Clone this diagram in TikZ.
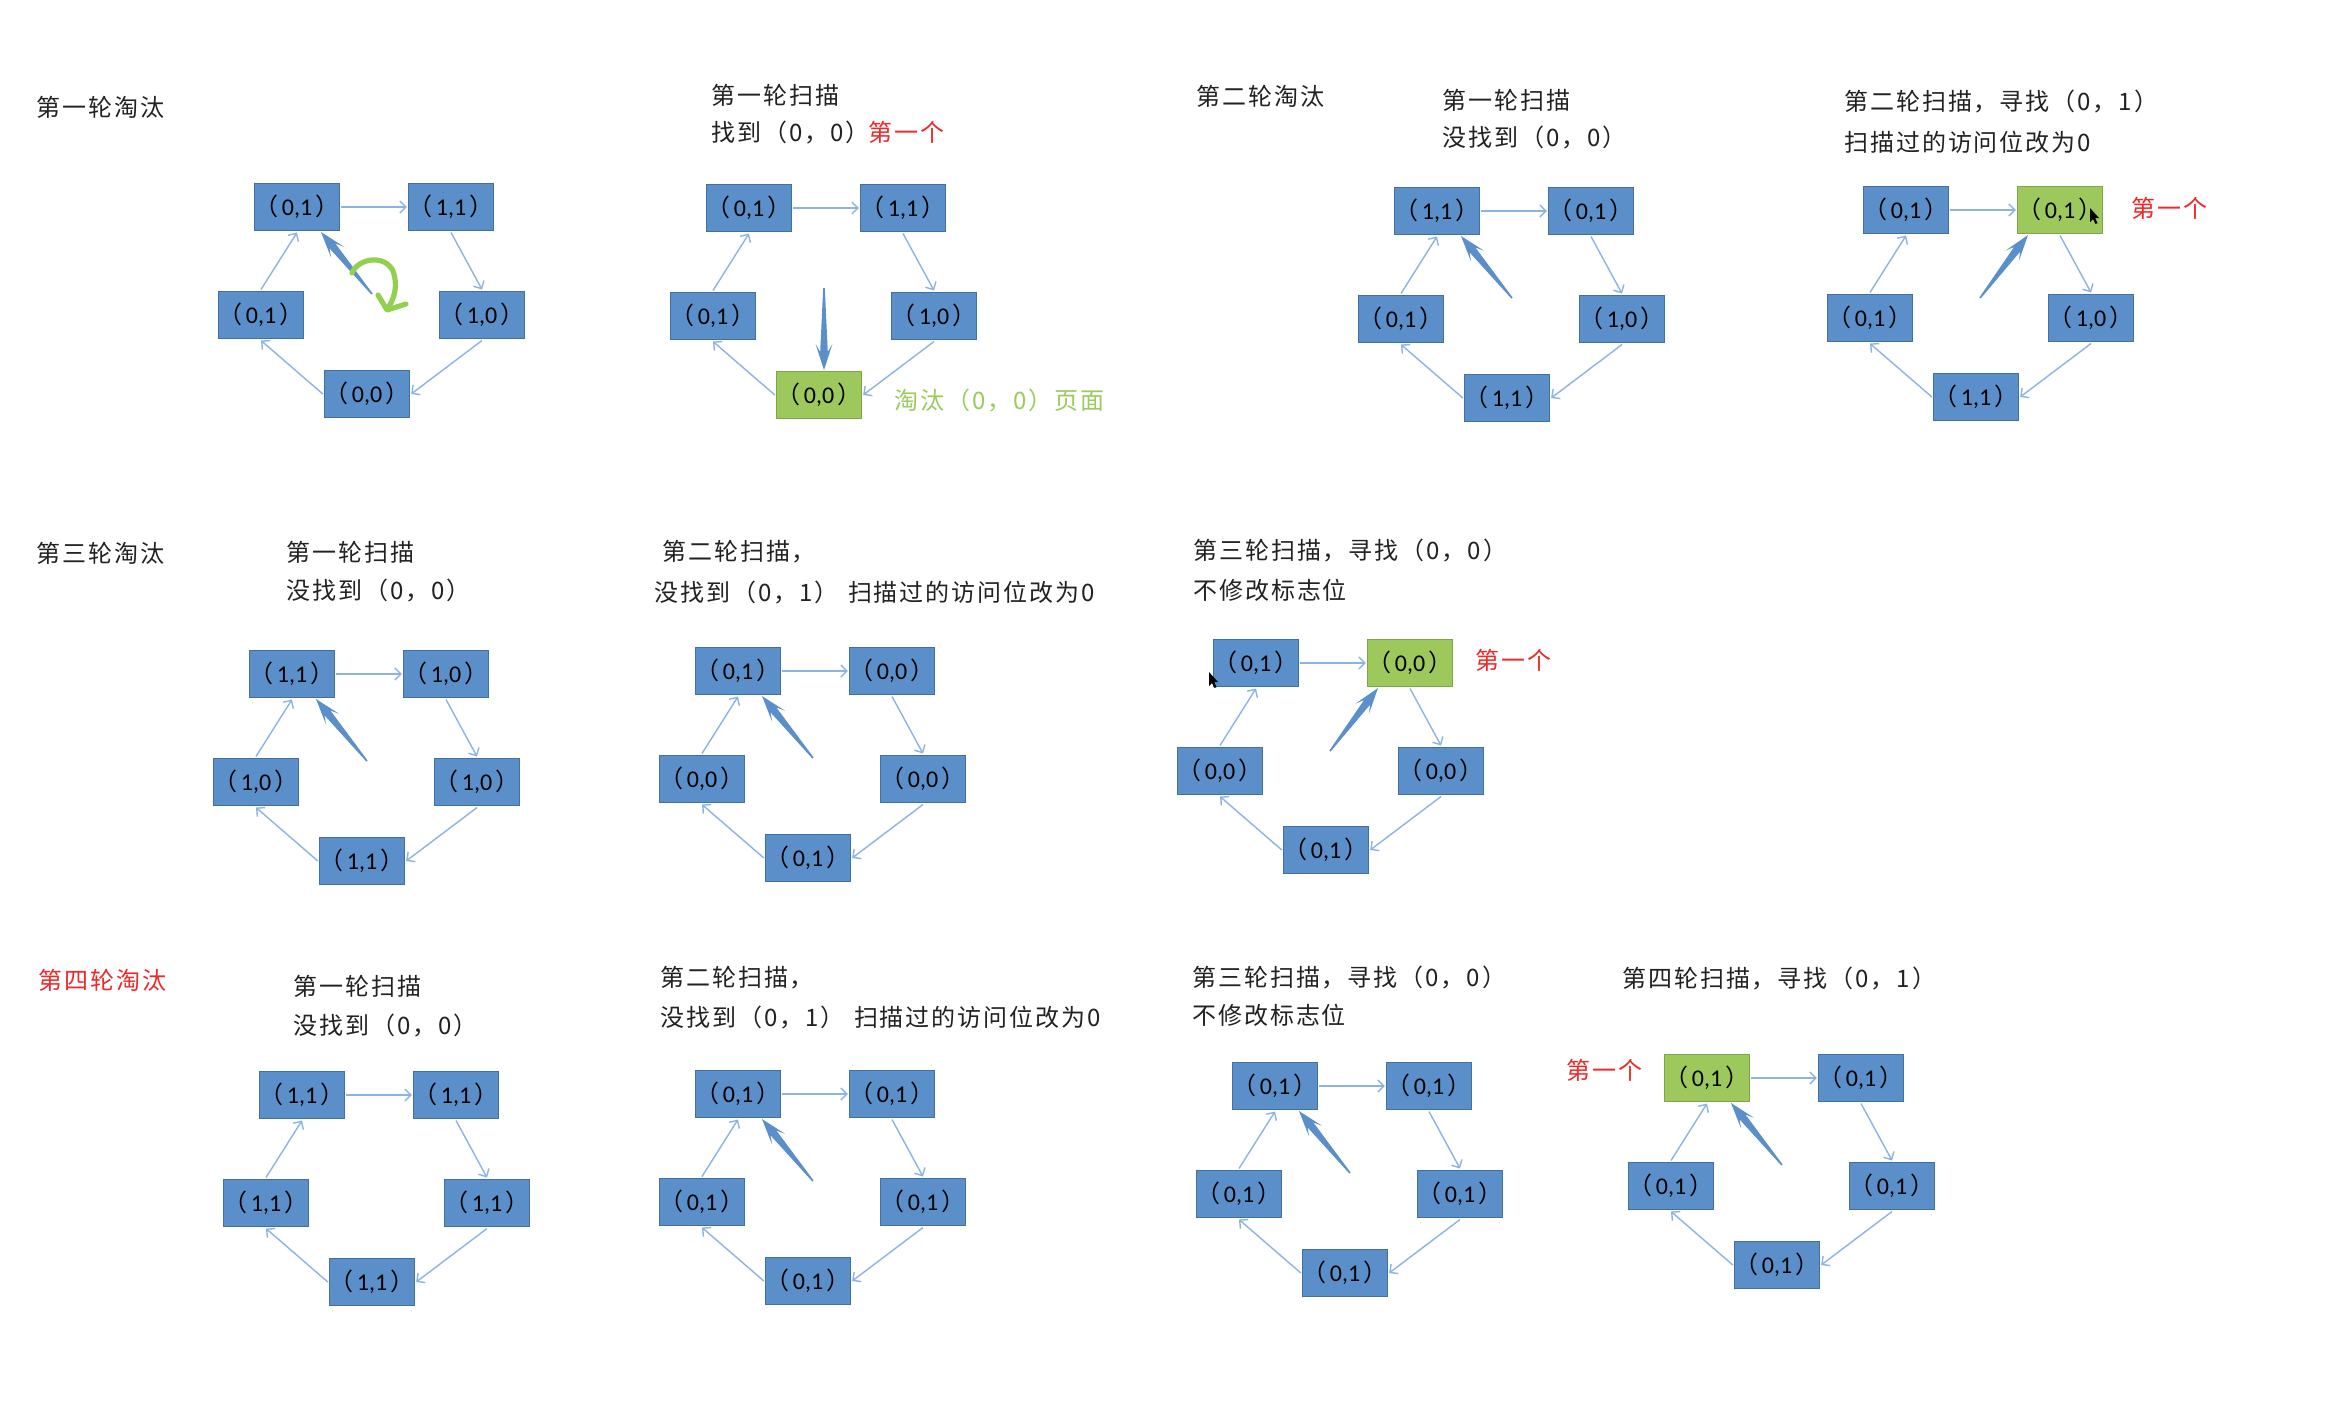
\documentclass[tikz,border=0pt]{standalone}
\usepackage{fontspec}
\usetikzlibrary{calc,arrows.meta}
\newfontfamily\cjk{Noto Sans CJK SC}[LetterSpace=8.0]
\newfontfamily\cjkp{Noto Sans CJK SC}
\newfontfamily\lbf{Carlito}
\definecolor{boxblue}{HTML}{5B8FCA}
\definecolor{boxedge}{HTML}{41719C}
\definecolor{boxgreen}{HTML}{9DC85C}
\definecolor{gedge}{HTML}{7FA548}
\definecolor{linkblue}{HTML}{8DB3E2}
\definecolor{ptrblue}{HTML}{5B8FCA}
\definecolor{redtxt}{HTML}{F02828}
\definecolor{greentxt}{HTML}{9BCB5E}
\definecolor{curgreen}{HTML}{92D050}
\definecolor{ink}{HTML}{222222}
\newcommand\lb[1]{{\cjkp （}\hspace{1.5pt}#1\hspace{1.5pt}{\cjkp ）}}
\newcommand\panel[9]{%
  \tikzset{hl-tl/.style={},hl-tr/.style={},hl-ml/.style={},hl-mr/.style={},hl-b/.style={},hl-none/.style={}}%
  \tikzset{hl-#9/.style={fill=boxgreen,draw=gedge}}%
  \begin{scope}[shift={(#2,#3)}]
    \node[bx,hl-tl] (#1-tl) at (0,0) {\lb{#4}};
    \node[bx,hl-tr] (#1-tr) at (154,0) {\lb{#5}};
    \node[bx,hl-ml] (#1-ml) at (-36,108) {\lb{#6}};
    \node[bx,hl-mr] (#1-mr) at (185,108) {\lb{#7}};
    \node[bx,hl-b] (#1-b) at (70,187) {\lb{#8}};
  \end{scope}
  \draw[cn] (#1-tl) -- (#1-tr);
  \draw[cn] (#1-tr.south) -- (#1-mr.north);
  \draw[cn] (#1-mr.south) -- (#1-b.east);
  \draw[cn] (#1-b.west) -- (#1-ml.south);
  \draw[cn] (#1-ml.north) -- (#1-tl.south);
}
\newcommand\ptrat[3]{%
  \coordinate (#1-ph) at #2;
  \coordinate (#1-pt) at #3;
  \coordinate (#1-p1) at ($(#1-ph)!13pt!(#1-pt)$);
  \coordinate (#1-p2) at ($(#1-ph)!9pt!(#1-pt)$);
  \fill[ptr] (#1-ph) -- ($(#1-p1)!4.2pt!90:(#1-pt)$) -- ($(#1-p2)!1.9pt!90:(#1-pt)$)
    -- ($(#1-pt)!0.4pt!-90:(#1-ph)$) -- ($(#1-pt)!0.4pt!90:(#1-ph)$)
    -- ($(#1-p2)!1.9pt!-90:(#1-pt)$) -- ($(#1-p1)!4.2pt!-90:(#1-pt)$) -- cycle;
}
\newcommand\upleft[1]{\ptrat{#1}{($(#1-tl)+(24,25)$)}{($(#1-tl)+(75,87)$)}}
\newcommand\upright[1]{\ptrat{#1}{($(#1-tr)+(-32,25)$)}{($(#1-tr)+(-80,88)$)}}
\newcommand\mcursor[2]{\fill[black,shift={(#1,#2)}] (0,0) -- (0,14) -- (3,11) -- (5.5,16) -- (7.5,15) -- (5,10) -- (9,10) -- cycle;}
\begin{document}
\begin{tikzpicture}[x=0.5pt,y=-0.5pt,
  bx/.style={draw=boxedge, line width=0.5pt, fill=boxblue, minimum width=41.5pt,
    minimum height=23.5pt, inner sep=0pt, outer sep=1pt,
    font=\lbf\fontsize{12}{14}\selectfont, text=black},
  cn/.style={draw=linkblue, line width=0.7pt, -{Straight Barb[length=3pt,width=6pt]}},
  ptr/.style={fill=ptrblue},
  ttl/.style={anchor=west, inner sep=0pt, font=\cjk\fontsize{12}{14}\selectfont, text=ink},
  red/.style={ttl, text=redtxt},
]
\fill[white] (0,0) rectangle (2325,1405);
\useasboundingbox (0,0) rectangle (2325,1405);

% ---------- row 1 ----------
\node[ttl] (t1) at (36,107) {第一轮淘汰};
\panel{a}{297}{207}{0,1}{1,1}{0,1}{1,0}{0,0}{none}
\upleft{a}
\draw[curgreen, line width=2.6pt, line cap=round]
  (352,273) .. controls (358,258) and (385,254) .. (393,271) .. controls (398,284) and (395,299) .. (387,309);
\draw[curgreen, line width=2.6pt, line cap=round, line join=round] (378,295) -- (387,310) -- (406,304);

\node[ttl] (t2a) at (711,95) {第一轮扫描};
\node[ttl] (t2b) at (711,132) {找到（0，0）};
\node[red] (t2c) at (868,132) {第一个};
\panel{b}{749}{208}{0,1}{1,1}{0,1}{1,0}{0,0}{b}
\ptrat{b}{($(b-b)+(5,-25)$)}{($(b-b)+(5,-107)$)}
\node[ttl, text=greentxt] (t2d) at (894,400) {淘汰（0，0）页面};

\node[ttl] (t3a) at (1196,96) {第二轮淘汰};
\node[ttl] (t3b) at (1442,100) {第一轮扫描};
\node[ttl] (t3c) at (1442,138) {没找到（0，0）};
\panel{c}{1437}{211}{1,1}{0,1}{0,1}{1,0}{1,1}{none}
\upleft{c}

\node[ttl] (t4a) at (1844,102) {第二轮扫描，寻找（0，1）};
\node[ttl] (t4b) at (1844,142) {扫描过的访问位改为0};
\panel{d}{1906}{210}{0,1}{0,1}{0,1}{1,0}{1,1}{tr}
\upright{d}
\node[red] (t4c) at (2131,208) {第一个};
\mcursor{2090}{208}

% ---------- row 2 ----------
\node[ttl] (t5a) at (36,553) {第三轮淘汰};
\node[ttl] (t5b) at (286,552) {第一轮扫描};
\node[ttl] (t5c) at (286,590) {没找到（0，0）};
\panel{e}{292}{674}{1,1}{1,0}{1,0}{1,0}{1,1}{none}
\upleft{e}

\node[ttl] (t6a) at (662,552) {第二轮扫描，};
\node[ttl] (t6b) at (654,592) {没找到（0，1）\hspace{0.4em}扫描过的访问位改为0};
\panel{f}{738}{671}{0,1}{0,0}{0,0}{0,0}{0,1}{none}
\upleft{f}

\node[ttl] (t7a) at (1193,550) {第三轮扫描，寻找（0，0）};
\node[ttl] (t7b) at (1193,590) {不修改标志位};
\panel{g}{1256}{663}{0,1}{0,0}{0,0}{0,0}{0,1}{tr}
\upright{g}
\node[red] (t7c) at (1475,660) {第一个};
\mcursor{1209}{672}

% ---------- row 3 ----------
\node[red] (t8a) at (38,980) {第四轮淘汰};
\node[ttl] (t8b) at (293,986) {第一轮扫描};
\node[ttl] (t8c) at (293,1025) {没找到（0，0）};
\panel{h}{302}{1095}{1,1}{1,1}{1,1}{1,1}{1,1}{none}

\node[ttl] (t9a) at (660,978) {第二轮扫描，};
\node[ttl] (t9b) at (660,1017) {没找到（0，1）\hspace{0.4em}扫描过的访问位改为0};
\panel{i}{738}{1094}{0,1}{0,1}{0,1}{0,1}{0,1}{none}
\upleft{i}

\node[ttl] (t10a) at (1192,977) {第三轮扫描，寻找（0，0）};
\node[ttl] (t10b) at (1192,1015) {不修改标志位};
\panel{j}{1275}{1086}{0,1}{0,1}{0,1}{0,1}{0,1}{none}
\upleft{j}

\node[ttl] (t11a) at (1622,978) {第四轮扫描，寻找（0，1）};
\node[red] (t11b) at (1566,1070) {第一个};
\panel{k}{1707}{1078}{0,1}{0,1}{0,1}{0,1}{0,1}{tl}
\upleft{k}
\end{tikzpicture}
\end{document}
